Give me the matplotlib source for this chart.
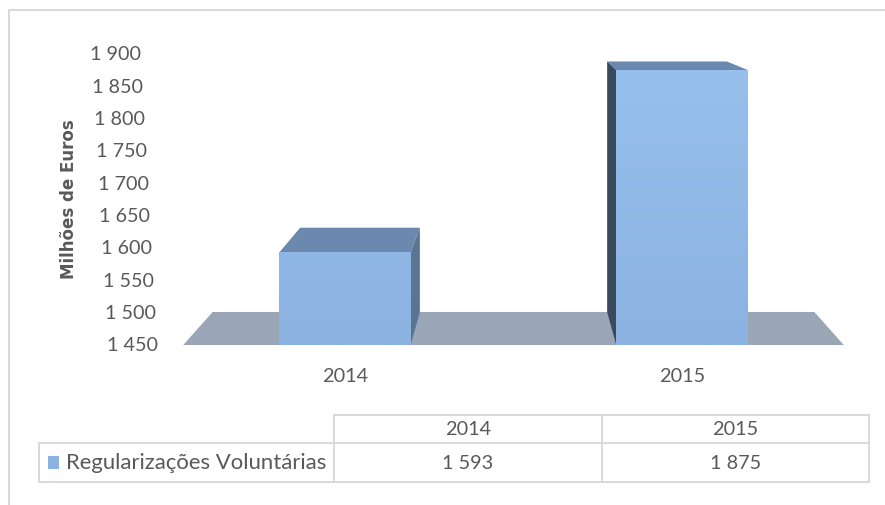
import numpy as np
import matplotlib
matplotlib.use("Agg")
import matplotlib.pyplot as plt
from matplotlib.patches import Polygon
from matplotlib.colors import LinearSegmentedColormap, Normalize
import matplotlib.transforms as mtransforms

# ---------------- data ----------------
categories = ["2014", "2015"]
series_name = "Regularizações Voluntárias"
values = [1593, 1875]
y_ticks = [1450, 1500, 1550, 1600, 1650, 1700, 1750, 1800, 1850, 1900]
y_label = "Milhões de Euros"


def fmt(v):
    return f"{v:,}".replace(",", " ")


plt.rcParams['font.family'] = ['Lato', 'DejaVu Sans']

W, H, DPI = 885, 506, 100
fig = plt.figure(figsize=(W / DPI, H / DPI), dpi=DPI)

TEXT = '#595959'
LINE = '#d9d9d9'
FRONT_LO, FRONT_HI = '#8bb2e0', '#98c0ed'
TOP = '#6b88ae'
SIDE_R = '#5a7493'
SIDE_L = '#3a4a5e'
FLOOR = '#9aa6b6'

# overlay axes in pixel coordinates (frame, table)
pax = fig.add_axes([0, 0, 1, 1])
pax.set_xlim(0, W)
pax.set_ylim(H, 0)
pax.axis('off')

# data axes
ax = fig.add_axes([0, 0, 1, 1], zorder=2)
ax.patch.set_alpha(0)
ax.axis('off')
x0_px, unit_px = 345.0, 337.0
base = y_ticks[0]
base_px, per_val = 346.0, 0.647
xlim = (-x0_px / unit_px, (W - x0_px) / unit_px)
ylim = (base - (H - base_px) / per_val, base + base_px / per_val)

# perspective parameters
VP = np.array([(len(categories) - 1) / 2.0, base + (base_px + 25) / per_val])
DEPTH = 0.089
bar_w = 0.39
floor_pad = 0.48


def back(p):
    p = np.asarray(p, float)
    return p + DEPTH * (VP - p)


# floor
fl = np.array([[-floor_pad, base], [len(categories) - 1 + floor_pad, base]])
floor_poly = [fl[0], fl[1], back(fl[1]), back(fl[0])]
ax.add_patch(Polygon(floor_poly, closed=True, facecolor=FLOOR, edgecolor='none', zorder=1))

cmap = LinearSegmentedColormap.from_list('front', [FRONT_LO, FRONT_HI])
norm = Normalize(vmin=y_ticks[0], vmax=y_ticks[-1])

for i, v in enumerate(values):
    h = bar_w / 2
    fbl, fbr = np.array([i - h, base]), np.array([i + h, base])
    ftl, ftr = np.array([i - h, v]), np.array([i + h, v])
    # top face
    ax.add_patch(Polygon([ftl, ftr, back(ftr), back(ftl)], closed=True,
                         facecolor=TOP, edgecolor='none', zorder=3))
    # side face
    if i < VP[0]:
        side = [fbr, back(fbr), back(ftr), ftr]
        col = SIDE_R
    else:
        side = [fbl, back(fbl), back(ftl), ftl]
        col = SIDE_L
    ax.add_patch(Polygon(side, closed=True, facecolor=col, edgecolor='none', zorder=3))
    # front face with vertical gradient
    grad = np.linspace(base, v, 100).reshape(-1, 1)
    ax.imshow(grad, extent=[i - h, i + h, base, v], origin='lower', cmap=cmap,
              norm=norm, aspect='auto', zorder=4, interpolation='bilinear')

ax.set_xlim(*xlim)
ax.set_ylim(*ylim)

# y tick labels (slanted axis)
axis_x0 = (158 - x0_px) / unit_px
slant = -0.0378 / unit_px
for t in y_ticks:
    ax.text(axis_x0 + slant * (t - base), t, fmt(t), ha='right', va='center',
            fontsize=14.2, color=TEXT, zorder=5)

# x category labels
trans = mtransforms.blended_transform_factory(ax.transData, pax.transData)
for i, c in enumerate(categories):
    ax.text(i, 376, c, transform=trans, ha='center', va='center',
            fontsize=14.3, color=TEXT, zorder=5)

# y axis title
pax.text(69, 199, y_label, rotation=90, ha='center', va='center',
         fontsize=12, fontweight='bold', color=TEXT, family=['DejaVu Sans'])

# chart frame
pax.plot([8.5, 8.5, W + 5], [H + 5, 11, 11], color=LINE, lw=1.5, solid_capstyle='butt')

# data table
tl, c1, c2, tr = 38.5, 334, 601.5, 869
r0, r1, r2 = 415.5, 444, 482.5
lw = 1.4
pax.plot([c1, tr], [r0, r0], color=LINE, lw=lw)
pax.plot([tl, tr], [r1, r1], color=LINE, lw=lw)
pax.plot([tl, tr], [r2, r2], color=LINE, lw=lw)
pax.plot([tl, tl], [r1, r2], color=LINE, lw=lw)
for xx in (c1, c2, tr):
    pax.plot([xx, xx], [r0, r2], color=LINE, lw=lw)

col_centers = [(c1 + c2) / 2, (c2 + tr) / 2]
for cx, c in zip(col_centers, categories):
    pax.text(cx, 429.5, c, ha='center', va='center', fontsize=14.3, color=TEXT)
for cx, v in zip(col_centers, values):
    pax.text(cx, 463.5, fmt(v), ha='center', va='center', fontsize=14.3, color=TEXT)

pax.add_patch(plt.Rectangle((47.5, 457), 11.5, 13, facecolor=FRONT_LO, edgecolor='none'))
pax.text(66, 463.5, series_name, ha='left', va='center', fontsize=15.9, color=TEXT)

fig.savefig('out.png', dpi=DPI)
